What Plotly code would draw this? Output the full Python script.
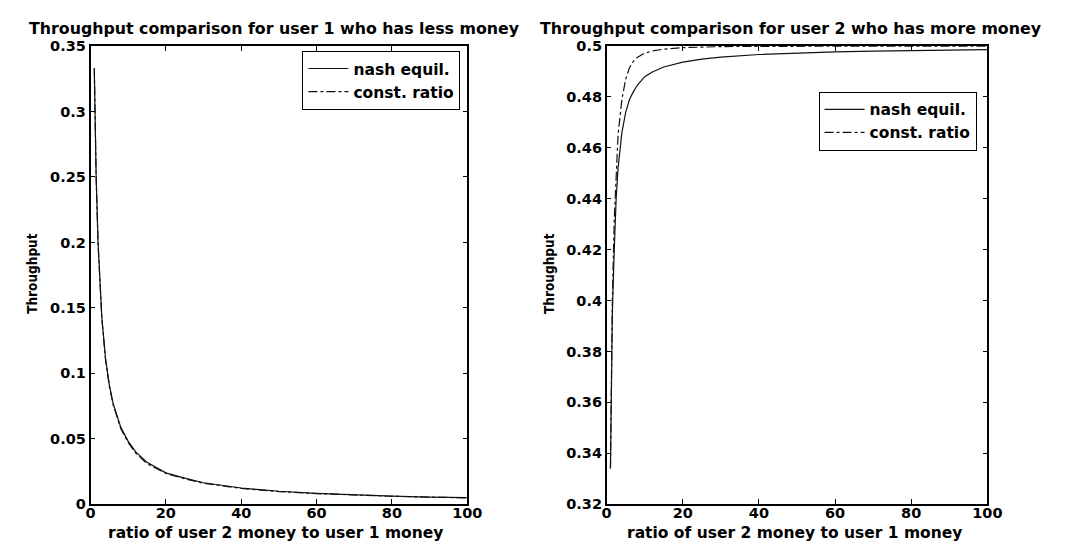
import plotly.graph_objects as go

# money ratio (user 2 / user 1)
ratio = [1, 1.25, 1.5, 2, 2.5, 3, 4, 5, 6, 7, 8, 10, 12, 15, 20, 25, 30, 40, 50, 60, 70, 80, 90, 100]

# user 1 throughput (less money)
u1_nash = [0.333, 0.286, 0.25, 0.2, 0.167, 0.143, 0.111, 0.091, 0.077, 0.067, 0.059, 0.048, 0.04,
           0.032, 0.024, 0.020, 0.0164, 0.0124, 0.0099, 0.0083, 0.0071, 0.0062, 0.0055, 0.005]
u1_const = [0.333, 0.285, 0.249, 0.199, 0.166, 0.142, 0.110, 0.090, 0.076, 0.066, 0.058, 0.047, 0.039,
            0.031, 0.0235, 0.0195, 0.0160, 0.0121, 0.0097, 0.0081, 0.0070, 0.0061, 0.0054, 0.0049]

# user 2 throughput (more money)
u2_nash = [0.334, 0.37, 0.395, 0.42, 0.44, 0.452, 0.466, 0.474, 0.479, 0.482, 0.4845, 0.488, 0.4898,
           0.4918, 0.4937, 0.4949, 0.4957, 0.4967, 0.4973, 0.4977, 0.498, 0.4982, 0.4984, 0.4986]
u2_const = [0.334, 0.372, 0.40, 0.432, 0.452, 0.465, 0.479, 0.487, 0.4915, 0.494, 0.4955, 0.4972, 0.4981,
            0.4988, 0.4994, 0.4997, 0.4998, 0.4999, 0.5, 0.5, 0.5, 0.5, 0.5, 0.5]

left_ticks_y = [0, 0.05, 0.1, 0.15, 0.2, 0.25, 0.3, 0.35]
right_ticks_y = [0.32, 0.34, 0.36, 0.38, 0.4, 0.42, 0.44, 0.46, 0.48, 0.5]
x_ticks = [0, 20, 40, 60, 80, 100]

W, H = 1065, 545
FONT = "DejaVu Sans, Arial, sans-serif"
NARROW = "DejaVu Sans Condensed, Liberation Sans Narrow, Arial Narrow, sans-serif"

fig = go.Figure()
fig.add_trace(go.Scatter(x=ratio, y=u1_nash, mode="lines", name="nash equil.",
                         line=dict(color="#111", width=1.2), xaxis="x", yaxis="y", legend="legend"))
fig.add_trace(go.Scatter(x=ratio, y=u1_const, mode="lines", name="const. ratio",
                         line=dict(color="#111", width=1.2, dash="dashdot"), xaxis="x", yaxis="y", legend="legend"))
fig.add_trace(go.Scatter(x=ratio, y=u2_nash, mode="lines", name="nash equil.",
                         line=dict(color="#111", width=1.2), xaxis="x2", yaxis="y2", legend="legend2"))
fig.add_trace(go.Scatter(x=ratio, y=u2_const, mode="lines", name="const. ratio",
                         line=dict(color="#111", width=1.2, dash="dashdot"), xaxis="x2", yaxis="y2", legend="legend2"))

def px_x(p):
    return p / W

def px_y(p):
    return 1 - p / H

ax_common = dict(showline=True, linecolor="black", linewidth=1.5, mirror="ticks", ticks="inside",
                 ticklen=5, tickwidth=1.2, tickcolor="black", showgrid=False, zeroline=False,
                 tickfont=dict(family=FONT, size=14.5, color="black", weight="bold"))

ydom = [px_y(503), px_y(31)]
xax_extra = dict(ticklabelstandoff=-5)
leg_font = dict(family=FONT, size=15.5, color="black", weight="bold")
fig.update_layout(
    width=W, height=H, margin=dict(l=0, r=0, t=0, b=0),
    paper_bgcolor="white", plot_bgcolor="white",
    xaxis=dict(domain=[px_x(79), px_x(463)], range=[0, 100], tickvals=x_ticks, anchor="y", **xax_extra, **ax_common),
    yaxis=dict(domain=ydom, range=[0, 0.35], tickvals=left_ticks_y, anchor="x", **ax_common),
    xaxis2=dict(domain=[px_x(605), px_x(993)], range=[0, 100], tickvals=x_ticks, anchor="y2", **xax_extra, **ax_common),
    yaxis2=dict(domain=ydom, range=[0.32, 0.5], tickvals=right_ticks_y, anchor="x2", **ax_common),
    legend=dict(x=px_x(456), y=px_y(36), xanchor="right", yanchor="top", bgcolor="white",
                bordercolor="black", borderwidth=1, itemwidth=40, font=leg_font),
    legend2=dict(x=px_x(982), y=px_y(78), xanchor="right", yanchor="top", bgcolor="white",
                 bordercolor="black", borderwidth=1, itemwidth=40, font=leg_font),
    showlegend=True,
)

ann = []
def add_text(text, x, y, size=15, family=FONT, angle=0):
    ann.append(dict(text=text, x=px_x(x), y=px_y(y), xref="paper", yref="paper", showarrow=False,
                    xanchor="center", yanchor="middle", textangle=angle,
                    font=dict(family=family, size=size, color="black", weight="bold")))

add_text("Throughput comparison for user 1 who has less money", 267, 13, size=15.8)
add_text("Throughput comparison for user 2 who has more money", 793, 13, size=15.8)
add_text("ratio of user 2 money to user 1 money", 268, 533, size=15.5)
add_text("ratio of user 2 money to user 1 money", 796, 533, size=15.5)
add_text("Throughput", 20, 265, size=13.5, family=NARROW, angle=-90)
add_text("Throughput", 546, 265, size=13.5, family=NARROW, angle=-90)
fig.update_layout(annotations=ann)

fig.write_html("out.html")
